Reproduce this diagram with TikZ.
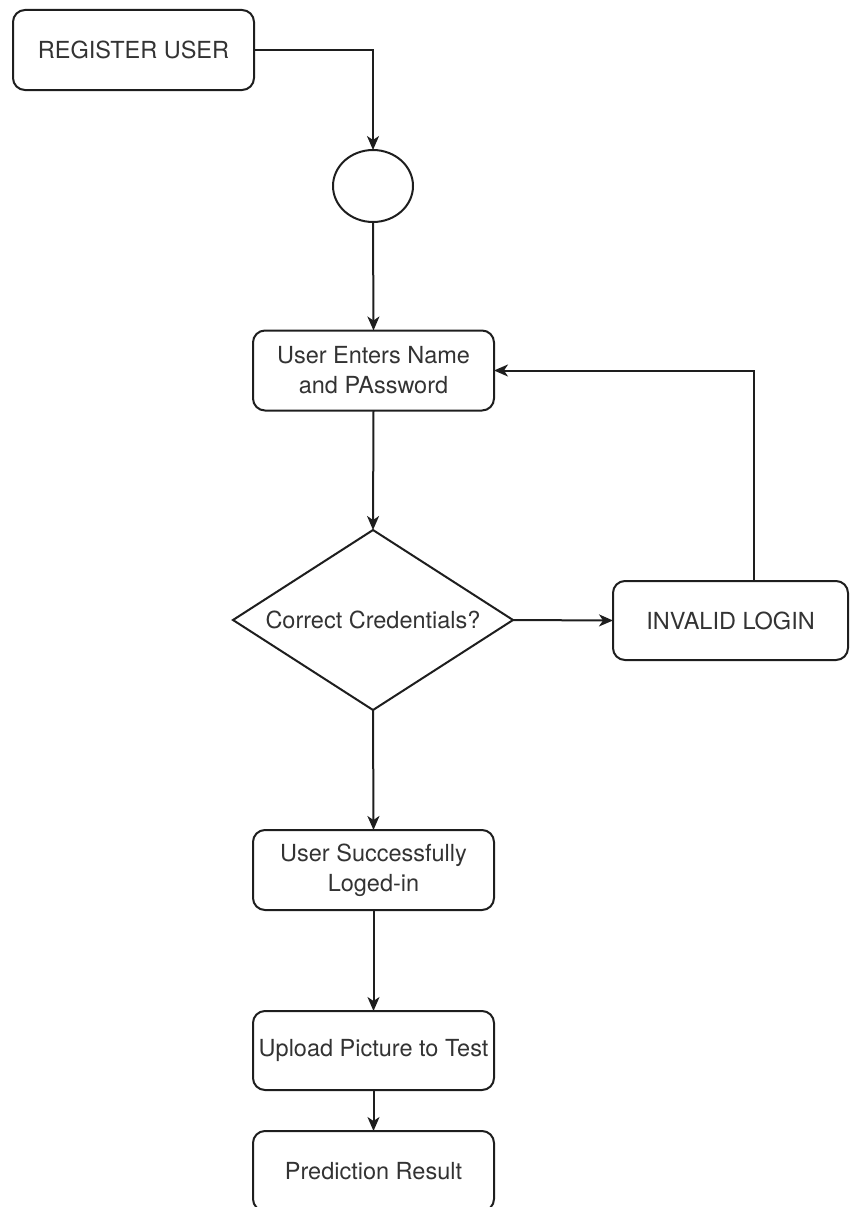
\documentclass[tikz,border=0pt]{standalone}
\usepackage{fontspec}
\setmainfont{TeX Gyre Heros}
\usetikzlibrary{shapes.geometric,arrows.meta,calc}
\definecolor{linec}{HTML}{1E1E1E}
\definecolor{textc}{HTML}{333333}
\tikzset{
  box/.style={draw=linec, line width=2pt, rounded corners=12pt, inner sep=0pt, outer sep=0pt,
    minimum width=241pt, minimum height=80pt, align=center, text=textc, font=\fontsize{23.5}{30}\selectfont},
  arr/.style={draw=linec, line width=2pt, -{Stealth[length=14pt,width=12pt,inset=4pt]}},
  ln/.style={draw=linec, line width=2pt}
}
\begin{document}
\begin{tikzpicture}[x=1pt,y=-1pt]
\useasboundingbox (0,0) rectangle (849,1207);
\node[box] (reg) at (133.5,50) {REGISTER USER};
\node[draw=linec, line width=2pt, ellipse, inner sep=0pt, outer sep=0pt, minimum width=80pt, minimum height=72pt] (circ) at (373,186) {};
\node[box] (enter) at (373.5,370.5) {User Enters Name\\and PAssword};
\node[draw=linec, line width=2pt, diamond, aspect=1.556, inner sep=0pt, outer sep=0pt, minimum width=280pt, minimum height=180pt, text=textc, font=\fontsize{23.5}{30}\selectfont] (dia) at (373,620) {Correct Credentials?};
\node[box, minimum width=235pt, minimum height=79pt] (inv) at (730.5,620.5) {INVALID LOGIN};
\node[box] (succ) at (373.5,870) {User Successfully\\Loged-in};
\node[box, minimum height=79pt] (up) at (373.5,1050.5) {Upload Picture to Test};
\node[box] (pred) at (373.5,1171) {Prediction Result};
\coordinate (ux) at (753.5,581);
\draw[arr] (reg.east) -| (circ.north);
\draw[arr] (circ.south) -- (enter.north);
\draw[arr] (enter.south) -- (dia.north);
\draw[arr] (dia.east) -- (inv.west);
\draw[arr] (ux) |- (enter.east);
\draw[arr] (dia.south) -- (succ.north);
\draw[arr] (succ.south) -- (up.north);
\draw[arr] (up.south) -- (pred.north);
\end{tikzpicture}
\end{document}
